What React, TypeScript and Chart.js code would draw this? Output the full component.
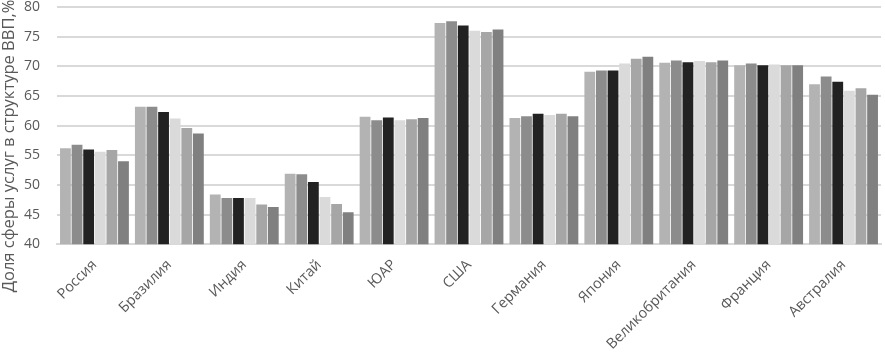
import React, { useEffect, useRef } from "react";
import { Chart, registerables } from "chart.js";

Chart.register(...registerables);

const categories = ["Россия", "Бразилия", "Индия", "Китай", "ЮАР", "США", "Германия", "Япония", "Великобритания", "Франция", "Австралия"];

const series1 = [56.2, 63.2, 48.4, 51.9, 61.5, 77.3, 61.3, 69.1, 70.6, 70.2, 67.0];
const series2 = [56.8, 63.2, 47.8, 51.8, 60.9, 77.6, 61.6, 69.3, 71.0, 70.5, 68.3];
const series3 = [56.0, 62.3, 47.8, 50.5, 61.4, 76.9, 62.0, 69.3, 70.7, 70.2, 67.4];
const series4 = [55.6, 61.2, 47.8, 48.0, 60.9, 76.0, 61.8, 70.5, 70.9, 70.3, 65.9];
const series5 = [55.9, 59.6, 46.7, 46.8, 61.1, 75.8, 62.0, 71.3, 70.7, 70.2, 66.3];
const series6 = [54.0, 58.7, 46.3, 45.4, 61.3, 76.2, 61.6, 71.6, 71.0, 70.2, 65.2];

const seriesColors = ["#b3b3b3", "#8c8c8c", "#222222", "#dadada", "#a6a6a6", "#808080"];

const yTitle = "Доля сферы услуг в структуре ВВП,%";

const yTitlePlugin = {
  id: "ytitle",
  afterDraw(chart: any) {
    const ctx = chart.ctx;
    ctx.save();
    ctx.translate(9, 146);
    ctx.rotate(-Math.PI / 2);
    ctx.fillStyle = "#595959";
    ctx.font = "16.5px 'Open Sans'";
    ctx.textAlign = "center";
    ctx.textBaseline = "middle";
    ctx.fillText(yTitle, 0, 0);
    ctx.restore();
  },
};

export default function App() {
  const ref = useRef<HTMLCanvasElement>(null);
  useEffect(() => {
    const data = [series1, series2, series3, series4, series5, series6];
    const chart = new Chart(ref.current!, {
      type: "bar",
      data: {
        labels: categories,
        datasets: data.map((d, i) => ({
          label: String(i + 1),
          data: d,
          backgroundColor: seriesColors[i],
          borderWidth: 0,
          categoryPercentage: 0.93,
          barPercentage: 0.93,
        })),
      },
      plugins: [yTitlePlugin],
      options: {
        animation: false,
        responsive: true,
        maintainAspectRatio: false,
        layout: { padding: { left: 0, right: 4, top: 0, bottom: 1 } },
        plugins: { legend: { display: false }, tooltip: { enabled: false } },
        scales: {
          x: {
            grid: { display: false },
            border: { display: true, color: "#d9d9d9", width: 2 },
            ticks: {
              maxRotation: 45,
              minRotation: 45,
              color: "#595959",
              font: { family: "Open Sans", size: 14.5 },
              padding: 4,
            },
          },
          y: {
            min: 40,
            max: 80,
            afterFit: (s: any) => {
              s.width = 57;
              s.paddingTop = 7;
              s.paddingBottom = 7;
            },
            ticks: {
              stepSize: 5,
              color: "#595959",
              font: { family: "Open Sans", size: 14 },
              padding: 17,
            },
            border: { display: false },
            grid: { color: "#d9d9d9", lineWidth: 2, drawTicks: false },
          },
        },
      },
    });
    return () => chart.destroy();
  }, []);
  return (
    <div style={{ position: "fixed", left: 0, top: 0, width: 885, height: 358, background: "#fff" }}>
      <canvas ref={ref} />
    </div>
  );
}
